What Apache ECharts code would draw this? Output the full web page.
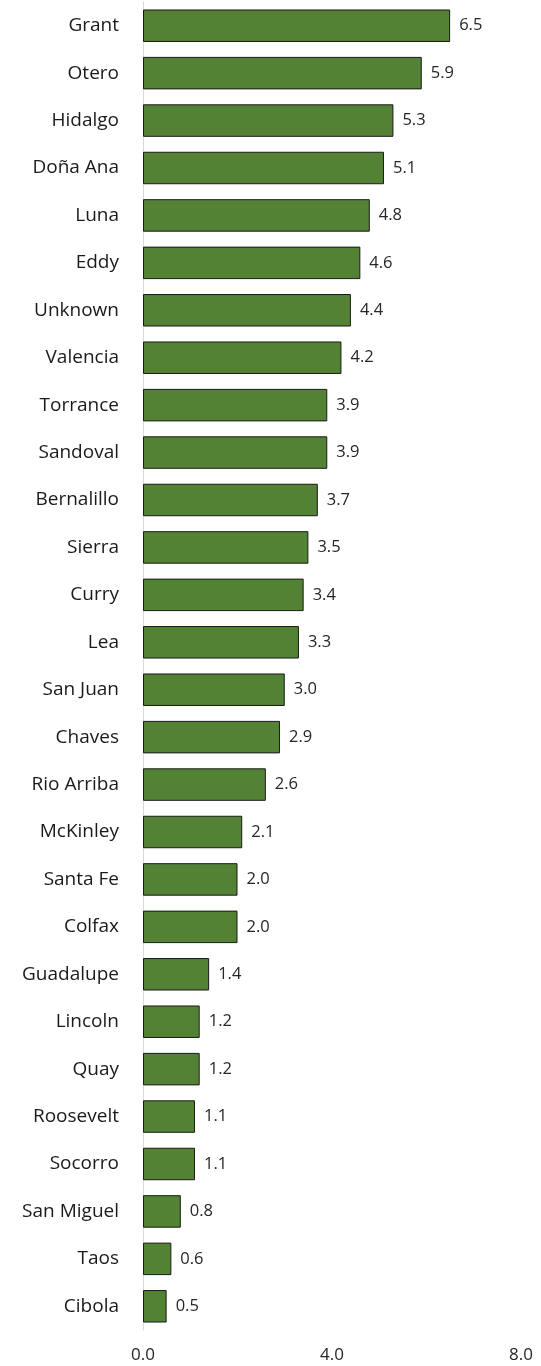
<!DOCTYPE html>
<html>
<head>
<meta charset="utf-8">
<script src="https://cdn.jsdelivr.net/npm/echarts@6/dist/echarts.min.js"></script>
<style>
  html, body { margin: 0; padding: 0; background: #fff; }
  #chart { width: 541px; height: 1366px; }
</style>
</head>
<body>
<div id="chart"></div>
<script>
const counties = ['Grant', 'Otero', 'Hidalgo', 'Doña Ana', 'Luna', 'Eddy', 'Unknown', 'Valencia',
  'Torrance', 'Sandoval', 'Bernalillo', 'Sierra', 'Curry', 'Lea', 'San Juan', 'Chaves',
  'Rio Arriba', 'McKinley', 'Santa Fe', 'Colfax', 'Guadalupe', 'Lincoln', 'Quay',
  'Roosevelt', 'Socorro', 'San Miguel', 'Taos', 'Cibola']
const rates = [6.5, 5.9, 5.3, 5.1, 4.8, 4.6, 4.4, 4.2, 3.9, 3.9, 3.7, 3.5, 3.4, 3.3, 3.0, 2.9,
  2.6, 2.1, 2.0, 2.0, 1.4, 1.2, 1.2, 1.1, 1.1, 0.8, 0.6, 0.5]
const xTicks = [0, 4, 8]

const chart = echarts.init(document.getElementById('chart'))
const font = 'Open Sans, Liberation Sans, sans-serif'

chart.setOption({
  animation: false,
  grid: { left: 143, right: 20, top: 2, height: 1328 },
  xAxis: {
    type: 'value',
    min: xTicks[0],
    max: xTicks[xTicks.length - 1],
    interval: xTicks[1] - xTicks[0],
    axisLine: { show: false },
    axisTick: { show: false },
    splitLine: { show: false },
    axisLabel: {
      formatter: v => v.toFixed(1),
      fontSize: 17, color: '#262626', fontFamily: font, margin: 17
    }
  },
  yAxis: {
    type: 'category',
    inverse: true,
    data: counties,
    axisLine: { lineStyle: { color: '#d9d9d9', width: 1 } },
    axisTick: { show: false },
    axisLabel: { fontSize: 19, color: '#1a1a1a', fontFamily: font, margin: 24 }
  },
  series: [{
    type: 'bar',
    data: rates,
    barWidth: '68.5%',
    itemStyle: { color: '#548235', borderColor: '#1a1a1a', borderWidth: 1 },
    label: {
      show: true,
      position: 'right',
      distance: 9,
      formatter: p => p.value.toFixed(1),
      fontSize: 16.5, color: '#262626', fontFamily: font
    }
  }]
})
</script>
</body>
</html>
